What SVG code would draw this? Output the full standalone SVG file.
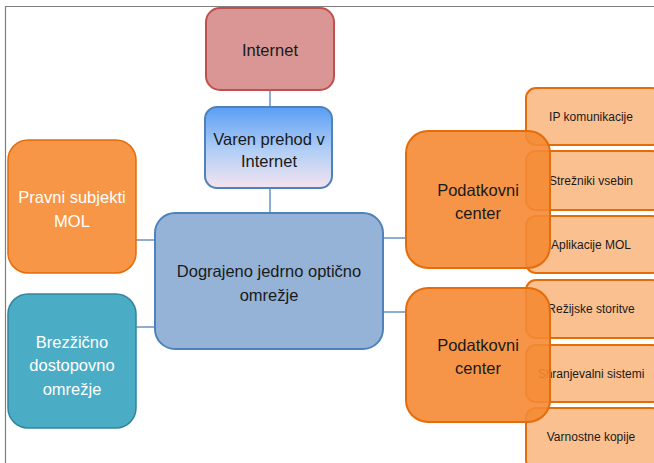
<svg xmlns="http://www.w3.org/2000/svg" width="654" height="463" viewBox="0 0 654 463">
  <defs>
    <linearGradient id="gradGateway" x1="0" y1="0" x2="0" y2="1">
      <stop offset="0" stop-color="#5a9ef4"/>
      <stop offset="0.55" stop-color="#b3cff5"/>
      <stop offset="1" stop-color="#f4e4f0"/>
    </linearGradient>
  </defs>
  <style>
    text { font-family: "Liberation Sans", Arial, sans-serif; text-anchor: middle; }
    .big { font-size: 16.5px; fill: #1a1a1a; }
    .white { font-size: 16.5px; fill: #ffffff; }
    .small { font-size: 12px; fill: #1a1a1a; }
    .conn line { stroke: #4f81bd; stroke-width: 1.3; }
    .sub rect { fill: #fac08f; stroke: #e46c0a; stroke-width: 2; }
    .dc rect { fill: #f58a33; fill-opacity: 0.9; stroke: #e46c0a; stroke-width: 2; }
  </style>

  <rect x="0" y="0" width="654" height="463" fill="#ffffff"/>
  <!-- frame -->
  <path d="M5.5 463 V6.5 H654" fill="none" stroke="#7f7f7f" stroke-width="1.2"/>

  <!-- connectors -->
  <g id="connectors" class="conn">
    <line x1="270" y1="90" x2="270" y2="107"/>
    <line x1="270" y1="188" x2="270" y2="213"/>
    <line x1="136" y1="240" x2="155" y2="240"/>
    <line x1="136" y1="327" x2="155" y2="327"/>
    <line x1="383" y1="238" x2="406" y2="238"/>
    <line x1="383" y1="312" x2="406" y2="312"/>
  </g>

  <g id="internet">
    <rect x="206" y="8" width="128" height="82" rx="14" fill="#d99694" stroke="#c0504d" stroke-width="2"/>
    <text class="big" x="270" y="56" font-size="17">Internet</text>
  </g>

  <g id="gateway">
    <rect x="205" y="107" width="127" height="81" rx="12" fill="url(#gradGateway)" stroke="#4f81bd" stroke-width="2"/>
    <text class="big" x="269" y="145">Varen prehod v</text>
    <text class="big" x="269" y="167">Internet</text>
  </g>

  <g id="core">
    <rect x="155" y="213" width="228" height="136" rx="20" fill="#95b3d7" stroke="#4f81bd" stroke-width="2"/>
    <text class="big" x="269" y="277">Dograjeno jedrno optično</text>
    <text class="big" x="269" y="301">omrežje</text>
  </g>

  <g id="legal">
    <rect x="8" y="140" width="128" height="133" rx="20" fill="#f79646" stroke="#e46c0a" stroke-width="1.5"/>
    <text class="white" x="72" y="203">Pravni subjekti</text>
    <text class="white" x="72" y="227">MOL</text>
  </g>

  <g id="wireless">
    <rect x="8" y="294" width="128" height="134" rx="20" fill="#4bacc6" stroke="#31859c" stroke-width="1.5"/>
    <text class="white" x="72" y="348">Brezžično</text>
    <text class="white" x="72" y="371">dostopovno</text>
    <text class="white" x="72" y="395">omrežje</text>
  </g>

  <!-- services of the first data centre -->
  <g id="ip" class="sub">
    <rect x="526" y="88" width="136" height="57" rx="10"/>
    <text class="small" x="591" y="121">IP komunikacije</text>
  </g>
  <g id="servers" class="sub">
    <rect x="526" y="151" width="136" height="59" rx="10"/>
    <text class="small" x="591" y="185">Strežniki vsebin</text>
  </g>
  <g id="apps" class="sub">
    <rect x="526" y="216" width="136" height="57" rx="10"/>
    <text class="small" x="591" y="249">Aplikacije MOL</text>
  </g>

  <!-- services of the second data centre -->
  <g id="overhead" class="sub">
    <rect x="526" y="280" width="136" height="58" rx="10"/>
    <text class="small" x="591" y="313">Režijske storitve</text>
  </g>
  <g id="storage" class="sub">
    <rect x="526" y="345" width="136" height="57" rx="10"/>
    <text class="small" x="591" y="378">Shranjevalni sistemi</text>
  </g>
  <g id="backup" class="sub">
    <rect x="526" y="408" width="136" height="62" rx="10"/>
    <text class="small" x="591" y="441">Varnostne kopije</text>
  </g>

  <g id="datacenter1" class="dc">
    <rect x="406" y="131" width="144" height="137" rx="22"/>
    <text class="big" x="478" y="196">Podatkovni</text>
    <text class="big" x="478" y="219">center</text>
  </g>

  <g id="datacenter2" class="dc">
    <rect x="406" y="288" width="144" height="134" rx="22"/>
    <text class="big" x="478" y="351">Podatkovni</text>
    <text class="big" x="478" y="374">center</text>
  </g>
</svg>
